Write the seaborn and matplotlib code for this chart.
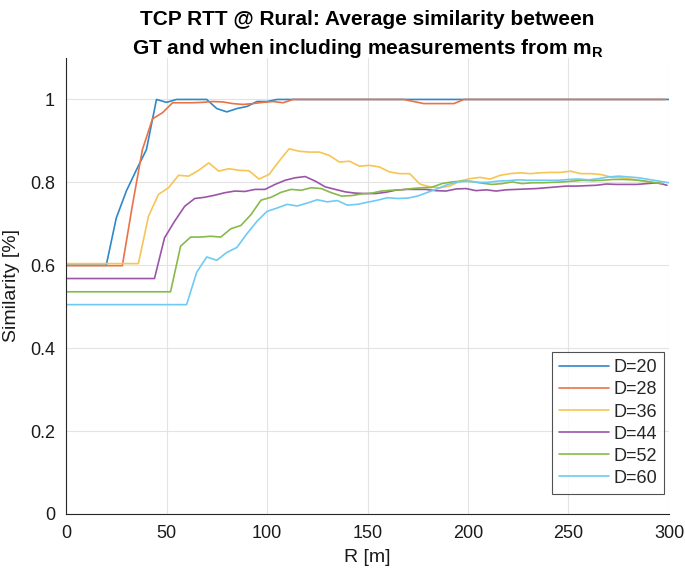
import matplotlib
matplotlib.use("Agg")
import matplotlib.pyplot as plt
import numpy as np
import pandas as pd
import seaborn as sns

# Distances D and the flat level each curve has before R reaches D
distances = [20, 28, 36, 44, 52, 60]
baseline = [0.600, 0.599, 0.604, 0.568, 0.536, 0.505]
step = 5  # R spacing of the samples after R = D

# Similarity values at R = D+5, D+10, ...
sim_d20 = [0.714, 0.779, 0.830, 0.879, 1.000, 0.993, 1.000, 1.000, 1.000, 1.000,
           0.978, 0.970, 0.978, 0.983, 0.995, 0.995, 1.000, 1.000, 1.000, 1.000,
           1.000, 1.000, 1.000, 1.000, 1.000, 1.000, 1.000, 1.000, 1.000, 1.000,
           1.000, 1.000, 1.000, 1.000, 1.000, 1.000, 1.000, 1.000, 1.000, 1.000,
           1.000, 1.000, 1.000, 1.000, 1.000, 1.000, 1.000, 1.000, 1.000, 1.000,
           1.000, 1.000, 1.000, 1.000, 1.000, 1.000]
sim_d28 = [0.744, 0.879, 0.953, 0.968, 0.992, 0.992, 0.992, 0.993, 0.995, 0.994,
           0.990, 0.988, 0.990, 0.993, 0.995, 0.992, 1.000, 1.000, 1.000, 1.000,
           1.000, 1.000, 1.000, 1.000, 1.000, 1.000, 1.000, 1.000, 0.995, 0.990,
           0.990, 0.990, 0.990, 1.000, 1.000, 1.000, 1.000, 1.000, 1.000, 1.000,
           1.000, 1.000, 1.000, 1.000, 1.000, 1.000, 1.000, 1.000, 1.000, 1.000,
           1.000, 1.000, 1.000, 1.000]
sim_d36 = [0.718, 0.771, 0.787, 0.817, 0.815, 0.829, 0.847, 0.827, 0.833, 0.829,
           0.828, 0.808, 0.819, 0.851, 0.881, 0.875, 0.873, 0.873, 0.865, 0.849,
           0.851, 0.839, 0.841, 0.837, 0.825, 0.821, 0.821, 0.796, 0.789, 0.787,
           0.791, 0.803, 0.809, 0.812, 0.808, 0.817, 0.821, 0.823, 0.821, 0.823,
           0.824, 0.824, 0.827, 0.821, 0.821, 0.819, 0.813, 0.811, 0.808, 0.804,
           0.800, 0.797]
sim_d44 = [0.666, 0.706, 0.742, 0.761, 0.764, 0.769, 0.775, 0.779, 0.778, 0.783,
           0.783, 0.795, 0.805, 0.811, 0.814, 0.803, 0.789, 0.783, 0.777, 0.774,
           0.773, 0.773, 0.776, 0.781, 0.783, 0.783, 0.783, 0.780, 0.779, 0.784,
           0.785, 0.780, 0.782, 0.779, 0.782, 0.783, 0.784, 0.785, 0.787, 0.789,
           0.791, 0.791, 0.792, 0.793, 0.796, 0.795, 0.795, 0.795, 0.797, 0.799,
           0.793]
sim_d52 = [0.646, 0.668, 0.668, 0.670, 0.668, 0.688, 0.696, 0.722, 0.757, 0.764,
           0.776, 0.783, 0.781, 0.787, 0.785, 0.775, 0.767, 0.768, 0.772, 0.774,
           0.779, 0.781, 0.782, 0.785, 0.787, 0.788, 0.797, 0.801, 0.803, 0.802,
           0.798, 0.795, 0.797, 0.801, 0.797, 0.799, 0.799, 0.800, 0.801, 0.803,
           0.805, 0.804, 0.805, 0.807, 0.807, 0.806, 0.804, 0.800, 0.797]
sim_d60 = [0.583, 0.620, 0.612, 0.631, 0.643, 0.676, 0.706, 0.730, 0.738, 0.747,
           0.743, 0.750, 0.758, 0.753, 0.756, 0.745, 0.747, 0.752, 0.757, 0.763,
           0.761, 0.762, 0.767, 0.776, 0.785, 0.795, 0.801, 0.803, 0.800, 0.800,
           0.803, 0.804, 0.806, 0.805, 0.805, 0.805, 0.805, 0.807, 0.808, 0.806,
           0.809, 0.813, 0.815, 0.813, 0.811, 0.807, 0.803, 0.799]
series = [sim_d20, sim_d28, sim_d36, sim_d44, sim_d52, sim_d60]

colors = ["#2f88c9", "#ea7346", "#f6c554", "#9b55a8", "#86ba4a", "#6fcbf2"]

# Build a long table: flat part from R=0 to R=D, then the sampled values
rows = []
for d, base, vals in zip(distances, baseline, series):
    label = f"D={d}"
    rows.append((label, 0, base))
    rows.append((label, d, base))
    for i, v in enumerate(vals):
        rows.append((label, d + step * (i + 1), v))
df = pd.DataFrame(rows, columns=["D", "R", "sim"])

sns.set_theme(style="white")
plt.rcParams["font.family"] = ["Liberation Sans", "DejaVu Sans"]

fig = plt.figure(figsize=(6.85, 5.73), dpi=100)
ax = fig.add_axes([0.0964, 0.103, 0.8802, 0.7958])

sns.lineplot(data=df, x="R", y="sim", hue="D", palette=colors,
             estimator=None, sort=False, linewidth=1.2, ax=ax)

ax.set_xlim(0, 300)
ax.set_ylim(0, 1.1)
ax.set_xticks(range(0, 301, 50))
ax.set_yticks([0, 0.2, 0.4, 0.6, 0.8, 1.0])
ax.set_yticklabels(["0", "0.2", "0.4", "0.6", "0.8", "1"])
ax.grid(True, color="#e3e3e3", linewidth=0.8)
ax.set_axisbelow(True)
for side in ["top", "right"]:
    ax.spines[side].set_visible(False)
for side in ["left", "bottom"]:
    ax.spines[side].set_color("#262626")
    ax.spines[side].set_linewidth(0.8)
ax.tick_params(direction="in", length=4, width=0.8, colors="#262626",
               labelsize=13, labelcolor="#1a1a1a", pad=8)

ax.set_xlabel("R [m]", fontsize=14, color="#1a1a1a", labelpad=5)
ax.set_ylabel("Similarity [%]", fontsize=14, color="#1a1a1a", labelpad=7)
ax.set_title("TCP RTT @ Rural: Average similarity between\n"
             "GT and when including measurements from m$_\\mathregular{R}$",
             fontsize=15, fontweight="bold", color="black", pad=3,
             linespacing=1.45)

leg = ax.legend(loc="lower right", bbox_to_anchor=(0.992, 0.044),
                borderaxespad=0, fontsize=13, frameon=True, fancybox=False,
                handlelength=2.75, handletextpad=0.25, borderpad=0.4,
                labelspacing=0.28)
leg.get_frame().set_edgecolor("#262626")
leg.get_frame().set_linewidth(0.8)

fig.savefig("out.png", dpi=100)
